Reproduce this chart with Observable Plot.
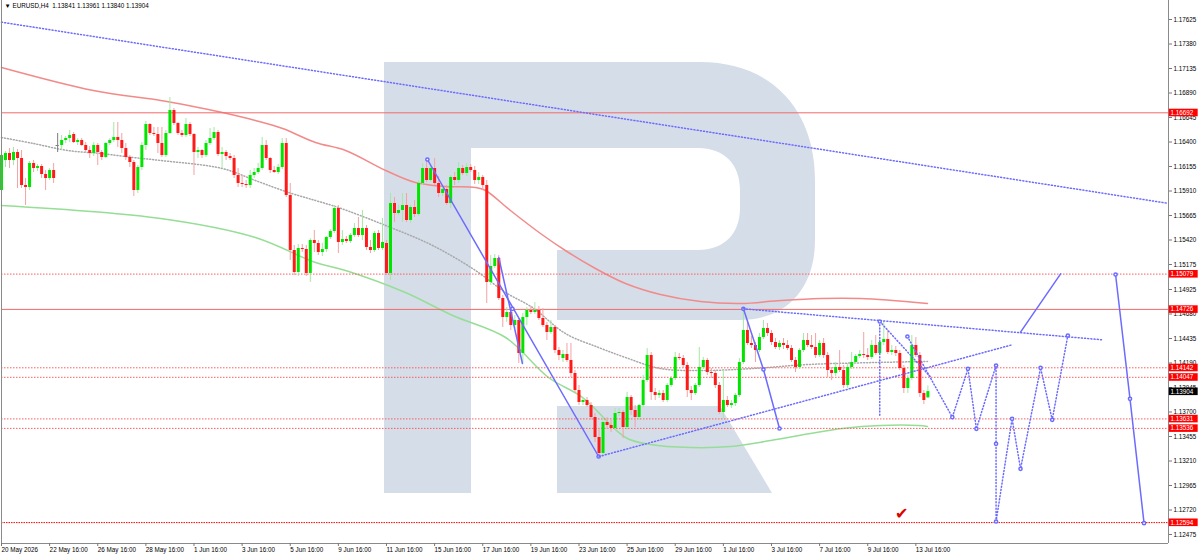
<!DOCTYPE html>
<html>
<head>
<meta charset="utf-8">
<script src="https://cdn.jsdelivr.net/npm/d3@7"></script>
<script src="https://cdn.jsdelivr.net/npm/@observablehq/plot@0.6"></script>
<style>
  body { margin: 0; background: #fff; }
  #chart { width: 1200px; height: 555px; overflow: hidden; }
</style>
</head>
<body>
<div id="chart"></div>
<script>
// EURUSD H4 candles, bar index 0 = 20 May 16:00
const opens = [
  1.15915,1.16215,1.16285,1.16215,1.16295,1.16235,1.15965,1.15945,1.16185,1.16135,
  1.16155,1.16075,1.16035,1.16115,1.16365,1.16365,1.16415,1.16435,1.16475,1.16395,
  1.16415,1.16365,1.16315,1.16285,1.16365,1.16295,1.16245,1.16385,1.16415,1.16445,
  1.16415,1.16335,1.16245,1.16195,1.15915,1.16145,1.16365,1.16575,1.16485,1.16475,
  1.16385,1.16265,1.16485,1.16715,1.16585,1.16485,1.16465,1.16575,1.16475,1.16295,
  1.16315,1.16265,1.16385,1.16435,1.16495,1.16275,1.16295,1.16255,1.16235,1.16065,
  1.15985,1.15975,1.15965,1.16065,1.16095,1.16135,1.16365,1.16235,1.16115,1.16095,
  1.16145,1.16385,1.15865,1.15315,1.15095,1.15335,1.15325,1.15085,1.15415,1.15385,
  1.15295,1.15325,1.15445,1.15505,1.15735,1.15395,1.15425,1.15405,1.15465,1.15535,
  1.15465,1.15535,1.15345,1.15315,1.15485,1.15335,1.15385,1.15085,1.15785,1.15685,
  1.15715,1.15765,1.15615,1.15745,1.15675,1.15985,1.16135,1.16015,1.16135,1.15985,
  1.15885,1.15925,1.15785,1.16045,1.16015,1.16135,1.16085,1.16145,1.16115,1.16015,
  1.16045,1.15965,1.14995,1.15155,1.15235,1.14835,1.14645,1.14695,1.14565,1.14615,
  1.14285,1.14645,1.14715,1.14695,1.14715,1.14635,1.14565,1.14495,1.14545,1.14315,
  1.14235,1.14275,1.14215,1.14085,1.13915,1.13795,1.13815,1.13765,1.13645,1.13445,
  1.13285,1.13595,1.13565,1.13535,1.13685,1.13695,1.13545,1.13845,1.13715,1.13645,
  1.13765,1.14015,1.14265,1.13895,1.13865,1.13885,1.13815,1.13965,1.14035,1.14245,
  1.14235,1.14165,1.13915,1.13885,1.13965,1.14145,1.14215,1.14095,1.14085,1.13965,
  1.13695,1.13815,1.13765,1.13785,1.13865,1.14195,1.14515,1.14385,1.14365,1.14315,
  1.14445,1.14535,1.14485,1.14395,1.14345,1.14385,1.14365,1.14335,1.14215,1.14145,
  1.14315,1.14415,1.14365,1.14345,1.14265,1.14385,1.14265,1.14115,1.14085,1.14145,
  1.14115,1.13965,1.14145,1.14195,1.14255,1.14275,1.14265,1.14245,1.14365,1.14285,
  1.14395,1.14425,1.14295,1.14315,1.14285,1.14135,1.13935,1.14035,1.14365,1.14265,
  1.13885,1.13841
];
const highs = [
  1.16315,1.16305,1.16335,1.16345,1.16325,1.16315,1.16035,1.16205,1.16215,1.16175,
  1.16175,1.16115,1.16135,1.16185,1.16485,1.16465,1.16455,1.16515,1.16495,1.16435,
  1.16435,1.16395,1.16355,1.16395,1.16385,1.16315,1.16395,1.16435,1.16595,1.16595,
  1.16485,1.16385,1.16265,1.16215,1.16165,1.16395,1.16605,1.16585,1.16545,1.16545,
  1.16545,1.16515,1.16845,1.16735,1.16595,1.16515,1.16635,1.16595,1.16485,1.16345,
  1.16325,1.16415,1.16535,1.16545,1.16515,1.16345,1.16315,1.16285,1.16265,1.16135,
  1.16065,1.16015,1.16115,1.16135,1.16185,1.16445,1.16415,1.16245,1.16155,1.16175,
  1.16435,1.16435,1.15985,1.15365,1.15375,1.15375,1.15365,1.15435,1.15515,1.15415,
  1.15385,1.15455,1.15525,1.15765,1.15765,1.15515,1.15455,1.15485,1.15585,1.15645,
  1.15715,1.15565,1.15415,1.15505,1.15515,1.15635,1.15415,1.15885,1.15845,1.15765,
  1.15885,1.15885,1.15765,1.15815,1.16015,1.16185,1.16225,1.16165,1.16235,1.16055,
  1.15965,1.15965,1.16065,1.16095,1.16195,1.16165,1.16185,1.16175,1.16155,1.16095,
  1.16065,1.16015,1.15265,1.15275,1.15265,1.14865,1.14745,1.14715,1.14665,1.14635,
  1.14685,1.14745,1.14755,1.14795,1.14755,1.14735,1.14595,1.14615,1.14565,1.14345,
  1.14315,1.14385,1.14385,1.14115,1.13965,1.13835,1.13845,1.13795,1.13685,1.13535,
  1.13635,1.13645,1.13615,1.13735,1.13735,1.13715,1.13895,1.13865,1.13765,1.13775,
  1.14065,1.14335,1.14295,1.13935,1.13915,1.13915,1.13985,1.14055,1.14295,1.14285,
  1.14265,1.14195,1.13955,1.13985,1.14345,1.14245,1.14235,1.14135,1.14115,1.13995,
  1.14115,1.13855,1.13815,1.13885,1.14235,1.14725,1.14615,1.14455,1.14395,1.14485,
  1.14615,1.14585,1.14515,1.14435,1.14415,1.14435,1.14415,1.14365,1.14245,1.14335,
  1.14485,1.14485,1.14465,1.14485,1.14415,1.14435,1.14295,1.14145,1.14195,1.14315,
  1.14165,1.14185,1.14295,1.14275,1.14315,1.14495,1.14335,1.14415,1.14465,1.14435,
  1.14605,1.14515,1.14365,1.14355,1.14315,1.14165,1.14065,1.14465,1.14445,1.14295,
  1.13915,1.13961
];
const lows = [
  1.15865,1.16145,1.16135,1.16165,1.15935,1.15935,1.15765,1.15915,1.16095,1.16105,
  1.16035,1.15915,1.16015,1.15985,1.16295,1.16315,1.16385,1.16395,1.16385,1.16365,
  1.16355,1.16295,1.16235,1.16255,1.16165,1.16215,1.16235,1.16365,1.16395,1.16345,
  1.16285,1.16215,1.16145,1.15855,1.15885,1.16115,1.16315,1.16465,1.16455,1.16285,
  1.16245,1.16245,1.16475,1.16565,1.16465,1.16445,1.16445,1.16455,1.16065,1.16235,
  1.16235,1.16245,1.16365,1.16415,1.16255,1.16135,1.16215,1.16215,1.16035,1.15945,
  1.15945,1.15935,1.15935,1.16035,1.16075,1.16115,1.16215,1.16085,1.16085,1.16075,
  1.16125,1.15845,1.15215,1.15065,1.15055,1.15295,1.15055,1.14995,1.15295,1.15265,
  1.15255,1.15295,1.15425,1.15485,1.15285,1.15365,1.15385,1.15385,1.15445,1.15445,
  1.15415,1.15315,1.15285,1.15295,1.15315,1.15315,1.15065,1.15015,1.15595,1.15665,
  1.15595,1.15595,1.15585,1.15645,1.15655,1.15965,1.15995,1.15995,1.15965,1.15845,
  1.15855,1.15765,1.15735,1.15965,1.15985,1.16065,1.16055,1.16095,1.15975,1.15975,
  1.15915,1.14785,1.14965,1.15135,1.14815,1.14545,1.14595,1.14515,1.14535,1.14185,
  1.14185,1.14565,1.14675,1.14675,1.14615,1.14545,1.14415,1.14475,1.14285,1.14215,
  1.14195,1.14195,1.14045,1.13885,1.13765,1.13765,1.13745,1.13615,1.13395,1.13255,
  1.13255,1.13525,1.13495,1.13515,1.13655,1.13435,1.13515,1.13665,1.13545,1.13615,
  1.13745,1.13995,1.13815,1.13815,1.13835,1.13795,1.13795,1.13945,1.14015,1.14215,
  1.14135,1.13845,1.13815,1.13865,1.13945,1.14125,1.14065,1.14035,1.13935,1.13675,
  1.13635,1.13745,1.13735,1.13755,1.13845,1.14175,1.14365,1.14335,1.14195,1.14295,
  1.14425,1.14455,1.14365,1.14325,1.14315,1.14325,1.14315,1.14195,1.14095,1.14125,
  1.14295,1.14345,1.14325,1.14235,1.14245,1.14235,1.14045,1.14015,1.14055,1.14095,
  1.13935,1.13935,1.14125,1.14175,1.14235,1.14235,1.14215,1.14225,1.14265,1.14265,
  1.14365,1.14275,1.14265,1.14255,1.14115,1.13885,1.13885,1.14015,1.14245,1.13845,
  1.13775,1.13840
];
const closes = [
  1.16265,1.16285,1.16215,1.16295,1.16235,1.15965,1.15945,1.16185,1.16135,1.16155,
  1.16075,1.16035,1.16115,1.16035,1.16365,1.16415,1.16435,1.16465,1.16395,1.16415,
  1.16365,1.16315,1.16285,1.16365,1.16295,1.16245,1.16385,1.16415,1.16445,1.16415,
  1.16335,1.16245,1.16195,1.15915,1.16145,1.16365,1.16575,1.16485,1.16475,1.16385,
  1.16265,1.16485,1.16715,1.16585,1.16485,1.16465,1.16575,1.16475,1.16295,1.16315,
  1.16265,1.16385,1.16435,1.16495,1.16275,1.16295,1.16255,1.16235,1.16065,1.15985,
  1.15975,1.15965,1.16065,1.16095,1.16135,1.16365,1.16235,1.16115,1.16095,1.16145,
  1.16385,1.15865,1.15315,1.15095,1.15335,1.15325,1.15085,1.15415,1.15385,1.15295,
  1.15325,1.15445,1.15505,1.15735,1.15395,1.15425,1.15405,1.15465,1.15535,1.15465,
  1.15535,1.15345,1.15315,1.15485,1.15335,1.15395,1.15085,1.15785,1.15685,1.15715,
  1.15765,1.15615,1.15745,1.15675,1.15985,1.16135,1.16015,1.16135,1.15985,1.15885,
  1.15925,1.15785,1.16045,1.16015,1.16135,1.16085,1.16145,1.16115,1.16015,1.16045,
  1.15965,1.14995,1.15155,1.15235,1.14835,1.14645,1.14695,1.14565,1.14615,1.14285,
  1.14645,1.14715,1.14695,1.14715,1.14635,1.14565,1.14495,1.14545,1.14315,1.14265,
  1.14275,1.14215,1.14085,1.13915,1.13795,1.13815,1.13765,1.13645,1.13445,1.13285,
  1.13595,1.13565,1.13535,1.13685,1.13695,1.13545,1.13845,1.13715,1.13645,1.13765,
  1.14015,1.14265,1.13895,1.13865,1.13885,1.13815,1.13965,1.14035,1.14245,1.14235,
  1.14165,1.13915,1.13885,1.13965,1.14145,1.14215,1.14095,1.14085,1.13965,1.13695,
  1.13815,1.13765,1.13785,1.13865,1.14195,1.14515,1.14385,1.14365,1.14315,1.14445,
  1.14535,1.14485,1.14395,1.14345,1.14385,1.14365,1.14335,1.14215,1.14145,1.14315,
  1.14415,1.14365,1.14345,1.14265,1.14385,1.14265,1.14115,1.14085,1.14145,1.14115,
  1.13965,1.14145,1.14195,1.14255,1.14275,1.14265,1.14245,1.14365,1.14285,1.14395,
  1.14425,1.14295,1.14315,1.14285,1.14135,1.13935,1.14035,1.14365,1.14265,1.13885,
  1.13815,1.13904
];

// moving averages, [bar, price]
const redMA = [[0,1.17145],[22.9,1.16915],[39.7,1.16815],[46.6,1.16765],[55.1,1.16695],[63.3,1.16615],
  [70.1,1.16535],[78.3,1.16395],[85.8,1.16315],[95.8,1.16115],[103.2,1.15995],[110.7,1.15955],
  [118.2,1.15945],[120.7,1.15915],[126.9,1.15715],[134.4,1.15485],[140.6,1.15315],[148.1,1.15135],
  [155.6,1.14985],[164.3,1.14875],[174.3,1.14805],[184.3,1.14785],[194.3,1.14815],[204.2,1.14835],
  [214.2,1.14835],[230.9,1.14785]];
const grayMA = [[0,1.16445],[8,1.16385],[16.5,1.16315],[24.7,1.16285],[32.9,1.16245],[39.7,1.16215],
  [55.1,1.16135],[63.3,1.16015],[71.6,1.15895],[78.3,1.15815],[84,1.15745],[95.8,1.15565],
  [107.5,1.15365],[118.2,1.15115],[125.7,1.14895],[132.4,1.14745],[140.6,1.14485],[148.9,1.14345],
  [155.6,1.14245],[164.3,1.14135],[175.1,1.14115],[187.5,1.14135],[201.2,1.14175],[218,1.14195],
  [230.9,1.14205]];
const greenMA = [[0,1.15765],[39.7,1.15635],[63.3,1.15445],[78.3,1.15195],[85.8,1.15115],[100.7,1.14895],
  [112.5,1.14665],[125.7,1.14445],[136.4,1.14045],[144.9,1.13845],[155.6,1.13445],[161.8,1.13375],
  [171.8,1.13345],[181.8,1.13355],[191.8,1.13415],[201.7,1.13485],[209.7,1.13535],[219.2,1.13565],
  [228.7,1.13565],[230.9,1.13555]];

// horizontal levels
const solidLevels = [1.16692, 1.14726];
const dottedLevels = [1.15079, 1.14142, 1.14047, 1.13631, 1.13536];
const targetLevels = [1.12594];
const lastPrice = 1.13904;

// analysis drawings, [bar, price]
const longDotted = [[0,1.17598],[290.7,1.15788]];
const trend1 = [[106.2,1.16225],[148.9,1.13255]];
const trend1Marks = [[106.2,1.16225],[127.4,1.14732],[148.9,1.13255]];
const trend2 = [[124,1.15245],[129.9,1.14185]];
const trend3 = [[185,1.14732],[190,1.14125],[194,1.13535]];
const triUpper = [[185,1.14732],[274.5,1.14422]];
const triLower = [[149,1.13255],[252,1.14372]];
const dropA = [[219,1.14605],[231.7,1.14048]];
const dropV = [[219,1.14605],[219,1.13645]];
const forecast = [[225.9,1.14455],[237.1,1.13648],[241,1.14132],[243.1,1.13532],[248,1.14165],
  [248,1.12605],[252,1.13632],[254.1,1.13132],[259.1,1.14142],[262,1.13622],[265.9,1.14465]];
const forecastMarks = [[225.9,1.14455],[237.1,1.13648],[241,1.14132],[243.1,1.13532],[248,1.14165],
  [248,1.13382],[248,1.12605],[252,1.13632],[254.1,1.13132],[259.1,1.14142],[262,1.13622],[265.9,1.14465]];
const breakUp = [[254.1,1.14498],[264.1,1.15082]];
const breakDown = [[277.8,1.15075],[281.4,1.13832],[284.9,1.12588]];
const checkAt = [[224.5,1.12685]];

const priceTicks = [1.17625,1.17380,1.17135,1.16890,1.16645,1.16400,1.16155,1.15910,1.15665,1.15420,
  1.15175,1.14925,1.14680,1.14435,1.14190,1.13945,1.13700,1.13455,1.13210,1.12965,1.12720,1.12475];
const dateLabels = ["20 May 2026","22 May 16:00","26 May 16:00","28 May 16:00","1 Jun 16:00","3 Jun 16:00",
  "5 Jun 16:00","9 Jun 16:00","11 Jun 16:00","15 Jun 16:00","17 Jun 16:00","19 Jun 16:00","23 Jun 16:00",
  "25 Jun 16:00","29 Jun 16:00","1 Jul 16:00","3 Jul 16:00","7 Jul 16:00","9 Jul 16:00","13 Jul 16:00"];
const dateTicks = dateLabels.map((d, k) => k * 12);

const bars = opens.map((o, i) => ({i, open: o, high: highs[i], low: lows[i], close: closes[i]}));
const wickColor = d => d.close > d.open ? "#a3e9a3" : d.close < d.open ? "#f3a3a3" : "#7c7c7c";
const bodyColor = d => d.close > d.open ? "#00e400" : "#ff1a1a";

const blue = "#6b6bff";
const dots = "1,2.2";
const X = d => d[0], Y = d => d[1];

const tags = [
  ...solidLevels, ...dottedLevels, ...targetLevels
].map(p => ({p, bg: "#ff0000"})).concat([{p: lastPrice, bg: "#000000"}]);

// RoboForex style "R" watermark drawn behind the chart
function watermark() {
  const g = d3.create("svg:g");
  g.append("path")
    .attr("fill", "#d5dde9")
    .attr("d", "M384,62H700C772,62 815,110 815,180V240C815,290 785,320 740,320H557V250H698C724,250 740,234 740,208V190C740,164 724,148 698,148H471V493H384Z");
  g.append("path")
    .attr("fill", "#d5dde9")
    .attr("d", "M557,406H720L772,493H557Z");
  return g.node();
}

const chart = Plot.plot({
  width: 1200,
  height: 555,
  marginLeft: 1,
  marginRight: 32,
  marginTop: 0,
  marginBottom: 12,
  x: {domain: [0, 291]},
  y: {domain: [1.12385, 1.17815]},
  color: {type: "identity"},
  style: {
    background: "transparent",
    fontFamily: "'Liberation Sans', Arial, sans-serif",
    fontSize: "6.3px",
    overflow: "visible"
  },
  marks: [
    watermark,
    Plot.line(grayMA, {x: X, y: Y, stroke: "#a8a8a8", strokeDasharray: "1,2", curve: "catmull-rom"}),
    Plot.line(redMA, {x: X, y: Y, stroke: "#f28a8a", curve: "catmull-rom"}),
    Plot.line(greenMA, {x: X, y: Y, stroke: "#96de96", curve: "catmull-rom"}),

    Plot.ruleY(solidLevels, {stroke: "#f26a6a"}),
    Plot.ruleY(dottedLevels, {stroke: "#ff5c5c", strokeDasharray: "1.5,1.5"}),
    Plot.ruleY(targetLevels, {stroke: "#ff0000", strokeDasharray: "1.5,1"}),
    Plot.line(longDotted, {x: X, y: Y, stroke: blue, strokeDasharray: dots}),

    // candles
    Plot.ruleX(bars, {x: "i", y1: "low", y2: "high", stroke: wickColor}),
    Plot.ruleX(bars.filter(d => d.open !== d.close), {x: "i", y1: "open", y2: "close", stroke: bodyColor, strokeWidth: 3}),
    Plot.ruleY(bars.filter(d => d.open === d.close), {x1: d => d.i - 0.4, x2: d => d.i + 0.4, y: "open", stroke: "#7c7c7c"}),

    // trend lines and triangle
    Plot.line(trend1, {x: X, y: Y, stroke: blue}),
    Plot.line(trend2, {x: X, y: Y, stroke: blue}),
    Plot.line(trend3, {x: X, y: Y, stroke: blue}),
    Plot.dot(trend1Marks.concat(trend3), {x: X, y: Y, r: 1.6, stroke: blue, fill: "white"}),
    Plot.line(triUpper, {x: X, y: Y, stroke: blue, strokeDasharray: dots}),
    Plot.line(triLower, {x: X, y: Y, stroke: blue, strokeDasharray: dots}),

    // forecast
    Plot.line(dropA, {x: X, y: Y, stroke: blue, strokeDasharray: dots}),
    Plot.line(dropV, {x: X, y: Y, stroke: blue, strokeDasharray: dots}),
    Plot.line(forecast, {x: X, y: Y, stroke: blue, strokeDasharray: dots}),
    Plot.dot(forecastMarks.concat([dropA[0]]), {x: X, y: Y, r: 1.6, stroke: blue, fill: "white"}),
    Plot.line(breakUp, {x: X, y: Y, stroke: blue}),
    Plot.line(breakDown, {x: X, y: Y, stroke: blue}),
    Plot.dot(breakDown, {x: X, y: Y, r: 1.6, stroke: blue, fill: "white"}),
    Plot.text(checkAt, {x: X, y: Y, text: () => "\u2714", fill: "#e00000", fontSize: 16, fontFamily: "DejaVu Sans"}),

    // frame
    Plot.ruleX([0, 291], {stroke: "#8a8a8a"}),
    Plot.ruleY([1.12385], {stroke: "#8a8a8a"}),

    // axes
    Plot.axisY(priceTicks, {
      anchor: "right", label: null, tickSize: 3, tickPadding: 2,
      tickFormat: d => d.toFixed(5), stroke: "#777", fill: "#000"
    }),
    Plot.axisX(dateTicks, {
      anchor: "bottom", label: null, tickSize: 3, tickPadding: 1,
      tickFormat: i => dateLabels[i / 12], textAnchor: "start", stroke: "#777", fill: "#000"
    }),

    // price tags on the right scale
    Plot.rect(tags, {x1: 291.2, x2: 298.4, y1: d => d.p - 0.0004, y2: d => d.p + 0.00036, fill: "bg"}),
    Plot.text(tags, {x: 291.5, y: "p", text: d => d.p.toFixed(5), fill: "white", textAnchor: "start"}),

    // symbol header
    Plot.text(["\u25BC EURUSD,H4  1.13841 1.13961 1.13840 1.13904"], {
      frameAnchor: "top-left", dx: 3, dy: 3, textAnchor: "start", lineAnchor: "top", fill: "#000"
    })
  ]
});

document.getElementById("chart").append(chart);
</script>
</body>
</html>
